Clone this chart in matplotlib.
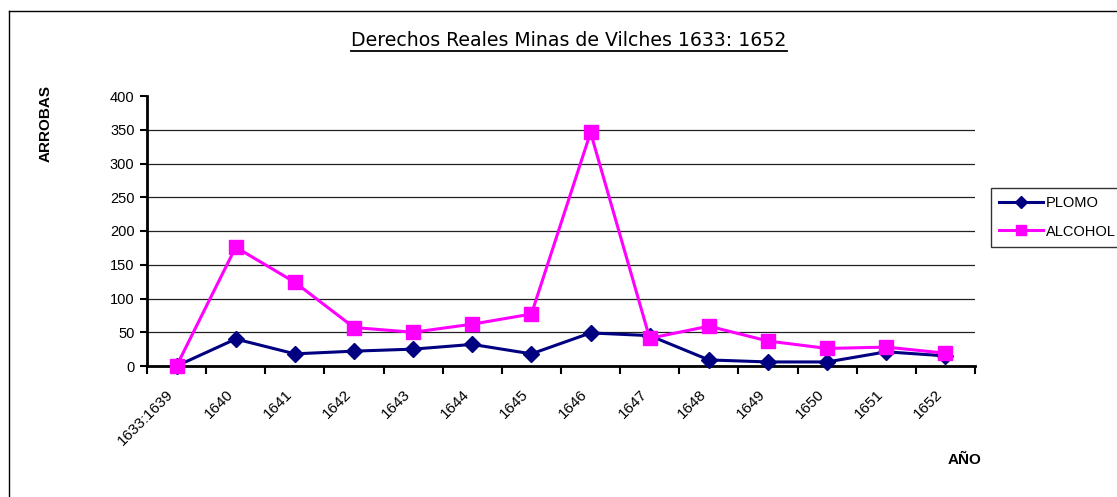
import matplotlib
matplotlib.use("Agg")
import matplotlib.pyplot as plt
from matplotlib.lines import Line2D
from matplotlib.transforms import ScaledTranslation

categories = ["1633:1639", "1640", "1641", "1642", "1643", "1644", "1645",
              "1646", "1647", "1648", "1649", "1650", "1651", "1652"]
plomo = [0, 40, 18, 22, 25, 32, 18, 49, 45, 9, 6, 6, 21, 15]
alcohol = [0, 176, 124, 57, 50, 62, 77, 346, 41, 59, 37, 26, 28, 19]
yticks = [0, 50, 100, 150, 200, 250, 300, 350, 400]

W, H = 1117, 497
fig = plt.figure(figsize=(W / 100, H / 100), dpi=100)
fig.patch.set_facecolor("white")

# outer border (left & top visible)
fig.add_artist(Line2D([9 / W, 9 / W], [0, 1 - 11 / H], transform=fig.transFigure,
                      color="black", lw=1))
fig.add_artist(Line2D([9 / W, 1], [1 - 11 / H, 1 - 11 / H], transform=fig.transFigure,
                      color="black", lw=1))

ax = fig.add_axes([147 / W, 1 - 366 / H, (975 - 147) / W, (366 - 96) / H])
x = list(range(len(categories)))

ax.plot(x, plomo, color="#000080", lw=2.2, marker="D", markersize=8,
        label="PLOMO", zorder=3, clip_on=False)
ax.plot(x, alcohol, color="#FF00FF", lw=2.2, marker="s", markersize=10,
        label="ALCOHOL", zorder=4, clip_on=False)

ax.set_xlim(-0.5, len(categories) - 0.5)
ax.set_ylim(0, 400)

font = "Liberation Sans"
ax.set_yticks(yticks)
ax.set_yticklabels([str(v) for v in yticks], fontsize=10.5, family=font)
ax.tick_params(axis="y", direction="out", length=5, width=1.5, pad=4)

ax.set_xticks([i - 0.5 for i in range(len(categories) + 1)])
ax.set_xticklabels([])
ax.tick_params(axis="x", which="major", direction="out", length=6, width=1.5)
ax.set_xticks(x, minor=True)
ax.set_xticklabels(categories, minor=True, rotation=45, ha="right",
                   rotation_mode="anchor", fontsize=11, family=font)
ax.tick_params(axis="x", which="minor", length=0, pad=15)
offset = ScaledTranslation(-10 / 100, 0, fig.dpi_scale_trans)
for lbl in ax.get_xticklabels(minor=True):
    lbl.set_transform(lbl.get_transform() + offset)

ax.grid(axis="y", color="#222222", lw=0.9)
ax.set_axisbelow(True)
gl = ax.yaxis.get_gridlines()
gl[0].set_visible(False)
gl[-1].set_visible(False)

for s in ["top", "right"]:
    ax.spines[s].set_visible(False)
for s in ["left", "bottom"]:
    ax.spines[s].set_linewidth(2)

# titles
t = fig.text(569 / W, 1 - 40 / H, "Derechos Reales Minas de Vilches 1633: 1652",
             ha="center", va="center", fontsize=13.6, family="DejaVu Sans")
fig.canvas.draw()
bb = t.get_window_extent()
uy = (bb.y0 - 1) / H
fig.add_artist(Line2D([bb.x0 / W, bb.x1 / W], [uy, uy], transform=fig.transFigure,
                      color="black", lw=1.3))

fig.text(46 / W, 1 - 124 / H, "ARROBAS", rotation=90, ha="center", va="center",
         fontsize=11, fontweight="bold", family=font)
fig.text(965 / W, 1 - 460 / H, "AÑO", ha="center", va="center",
         fontsize=11, fontweight="bold", family=font)

leg = fig.legend(loc="upper left", bbox_to_anchor=(991 / W, 1 - 188 / H),
                 bbox_transform=fig.transFigure, borderaxespad=0,
                 prop={"family": font, "size": 10.5}, frameon=True, fancybox=False,
                 handlelength=3.0, handletextpad=0.2, labelspacing=1.0,
                 borderpad=0.55, markerscale=0.75)
leg.get_frame().set_edgecolor("black")
leg.get_frame().set_linewidth(1)

fig.savefig("out.png", dpi=100, facecolor="white")
